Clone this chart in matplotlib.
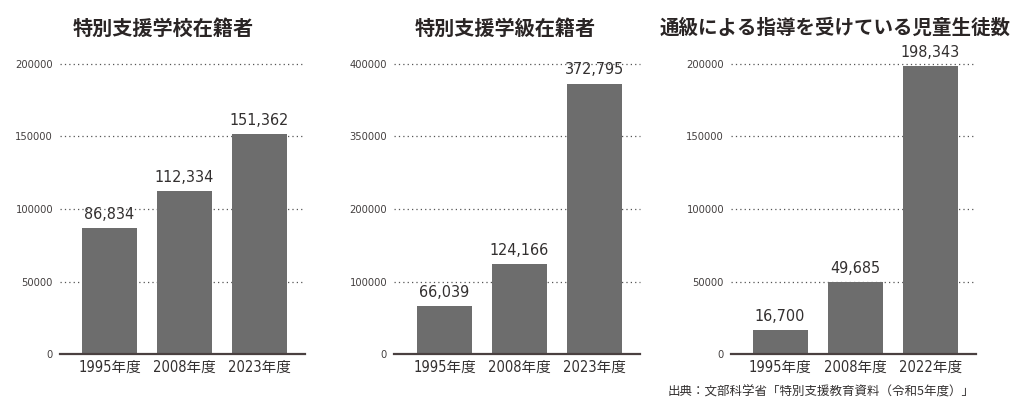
import matplotlib
matplotlib.use("Agg")
import matplotlib.pyplot as plt
import numpy as np

# データ
titles = ["特別支援学校在籍者", "特別支援学級在籍者", "通級による指導を受けている児童生徒数"]
years_school = ["1995年度", "2008年度", "2023年度"]
years_class = ["1995年度", "2008年度", "2023年度"]
years_tsukyu = ["1995年度", "2008年度", "2022年度"]
values_school = [86834, 112334, 151362]
values_class = [66039, 124166, 372795]
values_tsukyu = [16700, 49685, 198343]
yticks_school = [0, 50000, 100000, 150000, 200000]
yticks_class = [0, 100000, 200000, 300000, 400000]
ytick_labels_class = ["0", "100000", "200000", "350000", "400000"]  # 元の図のまま
yticks_tsukyu = [0, 50000, 100000, 150000, 200000]
source = "出典：文部科学省「特別支援教育資料（令和5年度）」"

NARROW = ["Liberation Sans Narrow", "DejaVu Sans", "Noto Sans CJK JP"]
CJK = ["Noto Sans CJK JP", "DejaVu Sans"]
BAR_COLOR = "#6d6d6d"
TEXT_COLOR = "#333030"

fig = plt.figure(figsize=(10.24, 4.2), dpi=100)

panels = [
    # (axes rect, xlim left, title x, title size, labels, values, yticks, ytick labels)
    ([60 / 1024, 0.157, 245 / 1024, 0.691], -0.66, 163, 14.5, years_school, values_school, yticks_school, None),
    ([394 / 1024, 0.157, 246 / 1024, 0.691], -0.673, 505, 14.5, years_class, values_class, yticks_class, ytick_labels_class),
    ([731 / 1024, 0.157, 245 / 1024, 0.691], -0.653, 835, 14, years_tsukyu, values_tsukyu, yticks_tsukyu, None),
]

for (rect, xleft, tx, tsize, labels, values, yticks, ylabels), title in zip(panels, titles):
    ax = fig.add_axes(rect)
    x = np.arange(len(labels))
    bars = ax.bar(x, values, width=55 / 75, color=BAR_COLOR, zorder=3)
    ax.set_xlim(xleft, 2.607)
    ax.set_ylim(0, yticks[-1])

    # 点線のグリッド
    for t in yticks[1:]:
        ax.axhline(t, color="#555555", linestyle=(0, (1, 2.5)), linewidth=0.9, zorder=1, clip_on=False)

    ax.set_yticks(yticks)
    ax.set_yticklabels(ylabels if ylabels else [str(t) for t in yticks])
    ax.set_xticks(x)
    ax.set_xticklabels(labels)
    for lab in ax.get_yticklabels():
        lab.set_fontfamily(NARROW)
        lab.set_fontstretch("condensed")
        lab.set_fontsize(8)
        lab.set_color("#444040")
    for lab in ax.get_xticklabels():
        lab.set_fontfamily(NARROW)
        lab.set_fontstretch("condensed")
        lab.set_fontsize(10.5)
        lab.set_color(TEXT_COLOR)
    ax.tick_params(axis="y", length=0, pad=5)
    ax.tick_params(axis="x", length=0, pad=4)

    for s in ["top", "right", "left"]:
        ax.spines[s].set_visible(False)
    ax.spines["bottom"].set_color("#4a4040")
    ax.spines["bottom"].set_linewidth(1.6)
    ax.spines["bottom"].set_zorder(4)

    # 棒の上の数値
    for b, v in zip(bars, values):
        ax.annotate(f"{v:,}", (b.get_x() + b.get_width() / 2, v), xytext=(0, 4.5),
                    textcoords="offset points", ha="center", va="bottom",
                    fontsize=11.5, fontfamily=NARROW, fontstretch="condensed",
                    color=TEXT_COLOR, annotation_clip=False)

    fig.text(tx / 1024, 1 - 28 / 420, title, ha="center", va="center",
             fontsize=tsize, fontweight="bold", fontfamily=CJK, color="#2a2525")

fig.text(975 / 1024, 1 - 392 / 420, source, ha="right", va="center",
         fontsize=9, fontfamily=CJK, color=TEXT_COLOR)

fig.savefig("out.png", dpi=100)
